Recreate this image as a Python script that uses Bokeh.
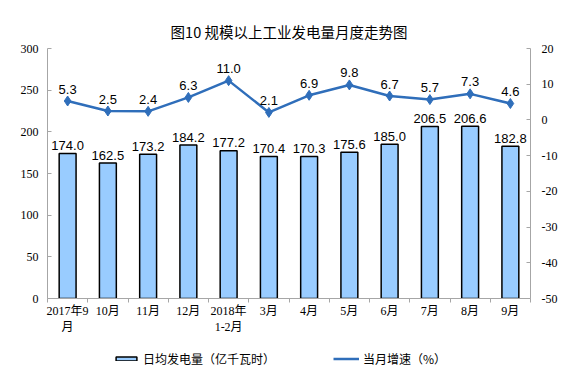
from bokeh.plotting import figure
from bokeh.layouts import column
from bokeh.models import Range1d, LinearAxis, FixedTicker, ColumnDataSource, Legend, LegendItem
from bokeh.core.properties import value
from bokeh.embed import file_html
from bokeh.resources import INLINE

months = ["2017年9\n月", "10月", "11月", "12月", "2018年\n1-2月", "3月",
          "4月", "5月", "6月", "7月", "8月", "9月"]
daily_output = [174.0, 162.5, 173.2, 184.2, 177.2, 170.4, 170.3, 175.6, 185.0, 206.5, 206.6, 182.8]
growth = [5.3, 2.5, 2.4, 6.3, 11.0, 2.1, 6.9, 9.8, 6.7, 5.7, 7.3, 4.6]
left_ticks = [0, 50, 100, 150, 200, 250, 300]
right_ticks = [-50, -40, -30, -20, -10, 0, 10, 20]
series_names = ["日均发电量（亿千瓦时）", "当月增速（%）"]

n = len(months)
xs = [i + 0.5 for i in range(n)]
src = ColumnDataSource(dict(
    x=xs, bar=daily_output, g=growth,
    bar_lbl=[f"{v:.1f}" for v in daily_output],
    g_lbl=[f"{v:.1f}" for v in growth],
))

SERIF = "'Liberation Serif', 'Noto Sans CJK SC'"
AXIS_COLOR = "#A6A6A6"
BAR_FILL = "#99CCFF"
LINE_COLOR = "#2F6EBA"

p = figure(frame_width=483, frame_height=250, output_backend="svg", toolbar_location=None,
           x_range=Range1d(0, n), y_range=Range1d(0, 300),
           min_border_left=47, min_border_right=51, min_border_top=48, min_border_bottom=42)
p.outline_line_color = None
p.xgrid.visible = False
p.ygrid.visible = False

p.title.text = "图10 规模以上工业发电量月度走势图"
p.title.align = "center"
p.title.text_font = "Noto Sans CJK SC"
p.title.text_font_size = "14.5px"
p.title.text_font_style = "normal"
p.title.text_color = "#000000"
p.title.standoff = 13

# bottom axis
xa = p.xaxis[0]
xa.ticker = FixedTicker(ticks=xs, minor_ticks=list(range(n + 1)))
xa.major_label_overrides = {x: m for x, m in zip(xs, months)}
xa.major_tick_line_color = None
xa.major_tick_in = 0
xa.major_tick_out = 0
xa.minor_tick_in = 0
xa.minor_tick_out = 4
xa.minor_tick_line_color = AXIS_COLOR
xa.axis_line_color = AXIS_COLOR
xa.major_label_text_font = SERIF
xa.major_label_text_font_size = "12px"
xa.major_label_text_color = "#000000"
xa.major_label_standoff = 1

# left axis
ya = p.yaxis[0]
ya.ticker = FixedTicker(ticks=left_ticks)
ya.major_tick_in = 4
ya.major_tick_out = 0
ya.minor_tick_line_color = None
ya.major_tick_line_color = AXIS_COLOR
ya.axis_line_color = AXIS_COLOR
ya.major_label_text_font = SERIF
ya.major_label_text_font_size = "12px"
ya.major_label_text_color = "#000000"
ya.major_label_standoff = 9

# right axis
p.extra_y_ranges = {"g": Range1d(-50, 20)}
ra = LinearAxis(y_range_name="g", ticker=FixedTicker(ticks=right_ticks))
ra.major_label_overrides = {t: str(t) for t in right_ticks}
ra.major_tick_in = 4
ra.major_tick_out = 0
ra.minor_tick_line_color = None
ra.major_tick_line_color = AXIS_COLOR
ra.axis_line_color = AXIS_COLOR
ra.major_label_text_font = SERIF
ra.major_label_text_font_size = "12px"
ra.major_label_text_color = "#000000"
ra.major_label_standoff = 11
p.add_layout(ra, "right")

p.vbar(x="x", top="bar", width=0.42, bottom=0, source=src,
       fill_color=BAR_FILL, line_color="#000000", line_width=1.5)
p.text(x="x", y="bar", text="bar_lbl", source=src, text_align="center",
       text_baseline="alphabetic", y_offset=-8, text_font=value("Liberation Sans"),
       text_font_size="13px", text_color="#000000")

p.line(x="x", y="g", source=src, y_range_name="g", line_color=LINE_COLOR, line_width=2.5)
p.scatter(x="x", y="g", source=src, y_range_name="g", marker="diamond", size=10,
          fill_color=LINE_COLOR, line_color=LINE_COLOR)
p.text(x="x", y="g", text="g_lbl", source=src, y_range_name="g", text_align="center",
       text_baseline="alphabetic", y_offset=-12, text_font=value("Liberation Sans"),
       text_font_size="13px", text_color="#000000")

# legend strip below the chart (dummy renderers with NaN data draw nothing themselves)
lg = figure(frame_width=483, frame_height=40, output_backend="svg", toolbar_location=None,
            x_range=Range1d(0, 1), y_range=Range1d(0, 1),
            min_border_left=47, min_border_right=51, min_border_top=0, min_border_bottom=0,
            x_axis_type=None, y_axis_type=None)
lg.grid.visible = False
lg.outline_line_color = None
nan = float("nan")
dummy = ColumnDataSource(dict(x=[nan], y=[nan]))
lb = lg.vbar(x="x", top="y", width=0.1, source=dummy,
             fill_color=BAR_FILL, line_color="#000000", line_width=1.5)
ll = lg.line(x="x", y="y", source=dummy, line_color=LINE_COLOR, line_width=2.5)
lp = lg.scatter(x="x", y="y", source=dummy, marker="diamond", size=6,
                fill_color=LINE_COLOR, line_color=LINE_COLOR)
legend = Legend(items=[LegendItem(label=series_names[0], renderers=[lb]),
                       LegendItem(label=series_names[1], renderers=[ll, lp])],
                orientation="horizontal", location=(66, 13),
                border_line_color=None, background_fill_alpha=0,
                glyph_width=26, glyph_height=5, label_standoff=4, spacing=58,
                label_text_font="Noto Sans CJK SC", label_text_font_size="12px",
                label_text_color="#000000", padding=4, margin=0)
lg.add_layout(legend, "center")

open("out.html", "w").write(file_html(column(p, lg, spacing=0), INLINE))
